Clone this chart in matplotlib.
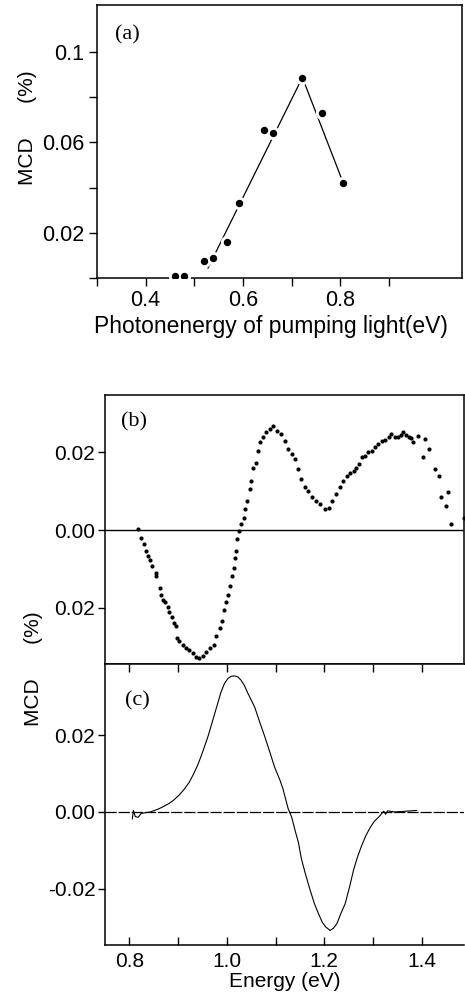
import numpy as np
import matplotlib
matplotlib.use("Agg")
import matplotlib.pyplot as plt

plt.rcParams['font.family'] = ['Liberation Sans', 'DejaVu Sans']

# (a) MCD vs pumping photon energy
pump_e = [0.460, 0.478, 0.520, 0.538, 0.567, 0.591, 0.643, 0.661, 0.722, 0.762, 0.806]
pump_mcd = [0.0010, 0.0010, 0.0074, 0.0090, 0.0160, 0.0334, 0.0657, 0.0641, 0.0887, 0.0732, 0.0419]
fit_e = [0.528, 0.722, 0.806]
fit_mcd = [0.0044, 0.0887, 0.0420]

# (b) measured MCD spectrum (dots)
b_e = [0.817, 0.824, 0.829, 0.833, 0.838, 0.843, 0.847, 0.854, 0.855, 0.862,
       0.865, 0.869, 0.874, 0.879, 0.882, 0.888, 0.891, 0.895, 0.898, 0.902,
       0.910, 0.917, 0.923, 0.930, 0.937, 0.943, 0.950, 0.958, 0.965, 0.973,
       0.977, 0.985, 0.991, 0.995, 0.999, 1.002, 1.007, 1.011, 1.014, 1.016,
       1.018, 1.021, 1.025, 1.030, 1.035, 1.038, 1.042, 1.047, 1.050, 1.054,
       1.059, 1.064, 1.069, 1.074, 1.081, 1.088, 1.095, 1.102, 1.112, 1.119,
       1.126, 1.134, 1.139, 1.146, 1.153, 1.160, 1.167, 1.174, 1.184, 1.191,
       1.201, 1.209, 1.216, 1.225, 1.232, 1.239, 1.246, 1.253, 1.260, 1.266,
       1.272, 1.277, 1.284, 1.290, 1.297, 1.304, 1.311, 1.318, 1.325, 1.332,
       1.338, 1.345, 1.352, 1.357, 1.362, 1.368, 1.373, 1.378, 1.383, 1.392,
       1.403, 1.407, 1.415, 1.427, 1.436, 1.440, 1.450, 1.455, 1.461, 1.486]
b_mcd = [0.0002, -0.0020, -0.0037, -0.0054, -0.0067, -0.0076, -0.0093, -0.0110, -0.0119, -0.0149,
         -0.0166, -0.0179, -0.0184, -0.0197, -0.0210, -0.0223, -0.0240, -0.0248, -0.0278, -0.0287,
         -0.0296, -0.0304, -0.0309, -0.0317, -0.0326, -0.0330, -0.0324, -0.0313, -0.0304, -0.0296,
         -0.0274, -0.0253, -0.0235, -0.0205, -0.0184, -0.0166, -0.0145, -0.0119, -0.0097, -0.0071,
         -0.0054, -0.0024, -0.0003, 0.0015, 0.0032, 0.0054, 0.0075, 0.0105, 0.0127, 0.0161,
         0.0174, 0.0204, 0.0226, 0.0239, 0.0252, 0.0261, 0.0269, 0.0256, 0.0248, 0.0230,
         0.0209, 0.0196, 0.0183, 0.0157, 0.0131, 0.0110, 0.0101, 0.0084, 0.0075, 0.0066,
         0.0054, 0.0058, 0.0075, 0.0092, 0.0110, 0.0127, 0.0140, 0.0148, 0.0152, 0.0161,
         0.0170, 0.0187, 0.0192, 0.0200, 0.0205, 0.0213, 0.0222, 0.0230, 0.0232, 0.0239,
         0.0248, 0.0240, 0.0239, 0.0246, 0.0252, 0.0244, 0.0239, 0.0236, 0.0226, 0.0243,
         0.0187, 0.0235, 0.0209, 0.0157, 0.0140, 0.0084, 0.0062, 0.0097, 0.0016, 0.0032]

# (c) calculated MCD spectrum (line)
c_e = [0.806, 0.808, 0.812, 0.818, 0.824, 0.832, 0.843, 0.860, 0.871, 0.881,
       0.890, 0.902, 0.913, 0.923, 0.932, 0.940, 0.947, 0.954, 0.962, 0.971,
       0.980, 0.988, 0.995, 1.002, 1.009, 1.016, 1.023, 1.029, 1.036, 1.043,
       1.050, 1.057, 1.067, 1.078, 1.088, 1.098, 1.109, 1.115, 1.126, 1.133,
       1.140, 1.147, 1.153, 1.162, 1.171, 1.180, 1.188, 1.196, 1.203, 1.212,
       1.219, 1.226, 1.235, 1.243, 1.252, 1.260, 1.268, 1.277, 1.286, 1.295,
       1.303, 1.312, 1.318, 1.322, 1.326, 1.330, 1.345, 1.390]
c_mcd = [-0.0018, 0.0004, -0.0012, -0.0014, -0.0004, -0.0002, 0.0000, 0.0008, 0.0015, 0.0022,
         0.0030, 0.0044, 0.0060, 0.0078, 0.0100, 0.0122, 0.0145, 0.0170, 0.0200, 0.0239,
         0.0278, 0.0313, 0.0335, 0.0348, 0.0354, 0.0355, 0.0352, 0.0344, 0.0330, 0.0310,
         0.0292, 0.0274, 0.0236, 0.0196, 0.0157, 0.0117, 0.0083, 0.0061, 0.0008, -0.0013,
         -0.0048, -0.0080, -0.0122, -0.0165, -0.0204, -0.0240, -0.0265, -0.0288, -0.0300, -0.0309,
         -0.0303, -0.0291, -0.0262, -0.0239, -0.0195, -0.0152, -0.0118, -0.0087, -0.0060, -0.0039,
         -0.0024, -0.0013, -0.0004, 0.0002, -0.0006, 0.0003, 0.0000, 0.0004]

FS = 15
fig = plt.figure(figsize=(4.65, 10.0), dpi=100)

# ---- panel (a)
ax1 = fig.add_axes([0.2086, 0.722, 0.785, 0.273])
ax1.plot(fit_e, fit_mcd, color='black', lw=0.9, zorder=2)
ax1.plot(pump_e, pump_mcd, 'o', color='white', ms=8.5, zorder=3)
ax1.plot(pump_e, pump_mcd, 'o', color='black', ms=4.3, zorder=4)
ax1.set_xlim(0.3, 1.05)
ax1.set_ylim(0, 0.1208)
ax1.set_xticks([0.3, 0.4, 0.5, 0.6, 0.7, 0.8, 0.9])
ax1.set_xticklabels(["", "0.4", "", "0.6", "", "0.8", ""])
ax1.set_yticks([0, 0.02, 0.04, 0.06, 0.08, 0.1])
ax1.set_yticklabels(["", "0.02", "", "0.06", "", "0.1"])
ax1.tick_params(direction='out', length=6, width=1, labelsize=FS + 0.5, pad=3)
ax1.set_xlabel("Photonenergy of pumping light(eV)", fontsize=16.5, labelpad=2)
ax1.xaxis.set_label_coords(0.477, -0.135)
ax1.text(0.048, 0.89, "(a)", transform=ax1.transAxes, fontsize=16,
         family=['Liberation Serif', 'DejaVu Serif'], va='center')
fig.text(0.06, 0.8725, "MCD      (%)", rotation=90, fontsize=FS, ha='center', va='center')

# ---- panel (b)
ax2 = fig.add_axes([0.226, 0.336, 0.772, 0.269])
ax2.axhline(0, color='black', lw=1.0)
ax2.plot(b_e, b_mcd, 'o', color='black', ms=3.0, mew=0)
ax2.set_ylim(-0.0345, 0.0348)
ax2.set_yticks([-0.02, 0.0, 0.02])
ax2.set_yticklabels(["0.02", "0.00", "0.02"])
ax2.tick_params(axis='y', direction='out', length=5, width=1, labelsize=FS, pad=2)
ax2.tick_params(axis='x', bottom=False, labelbottom=False)
ax2.text(0.045, 0.9, "(b)", transform=ax2.transAxes, fontsize=16,
         family=['Liberation Serif', 'DejaVu Serif'], va='center')

# ---- panel (c)
ax3 = fig.add_axes([0.226, 0.055, 0.772, 0.281], sharex=ax2)
ax3.axhline(0, color='black', lw=0.9, dashes=(9, 1.5))
ax3.plot(c_e, c_mcd, color='black', lw=0.8)
ax3.set_xlim(0.75, 1.487)
ax3.set_ylim(-0.0347, 0.0386)
ax3.set_xticks([0.8, 1.0, 1.2, 1.4])
ax3.set_xticklabels(["0.8", "1.0", "1.2", "1.4"])
ax3.set_xticks([0.9, 1.1, 1.3], minor=True)
ax3.set_yticks([-0.02, 0.0, 0.02])
ax3.set_yticklabels(["-0.02", "0.00", "0.02"])
ax3.tick_params(axis='y', direction='out', length=5, width=1, labelsize=FS, pad=2)
ax3.tick_params(axis='x', which='both', direction='in', top=True, length=6, width=1,
                labelsize=FS, pad=5)
ax3.spines['right'].set_visible(False)
ax3.set_xlabel("Energy (eV)", fontsize=FS, labelpad=1)
ax3.text(0.055, 0.87, "(c)", transform=ax3.transAxes, fontsize=16,
         family=['Liberation Serif', 'DejaVu Serif'], va='center')
fig.text(0.071, 0.331, "MCD      (%)", rotation=90, fontsize=FS, ha='center', va='center')

for ax in (ax1, ax2, ax3):
    for s in ax.spines.values():
        s.set_linewidth(1.1)

plt.savefig("out.png", dpi=100)
